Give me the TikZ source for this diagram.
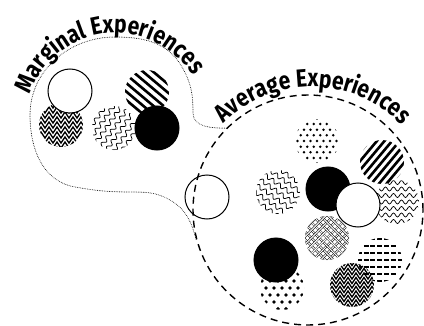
\documentclass[tikz,border=0pt]{standalone}
\usepackage{fontspec}
\newfontfamily\arcfamily{Fira Sans}[FakeStretch=0.84]
\newcommand\arcfont{\arcfamily\bfseries\fontsize{25}{25}\selectfont}
\usetikzlibrary{decorations.pathmorphing,decorations.text}

\begin{document}
\begin{tikzpicture}[x=1pt, y=1pt,
	disc/.style={
		% The shape:
		circle, inner sep=0pt,
		% The size:
		minimum size=44pt
		},
	% plain discs
	blank/.style={disc, draw, line width=1pt, fill=white},
	solid/.style={disc, draw, line width=1pt, fill=black},
	% patterned discs, the pattern is clipped to the disc;
	% each line starts 30pt back along the angle and runs 60pt
	stripes/.style 2 args={disc, path picture={
		\begin{scope}[shift={(path picture bounding box.center)}]
			\foreach \k in {-5,...,5}
				\draw[line width=2.6pt] ([shift={(#1+90:\k*#2)}] #1+180:30) -- ++(#1:60);
		\end{scope}}},
	zigzag/.style={disc, path picture={
		\begin{scope}[shift={(path picture bounding box.center)}]
			\foreach \k in {-6,...,6}
				\draw[line width=1.3pt, decorate,
					decoration={zigzag, segment length=8, amplitude=3}] (-30,\k*#1) -- (30,\k*#1);
		\end{scope}}},
	waves/.style 2 args={disc, path picture={
		\begin{scope}[shift={(path picture bounding box.center)}]
			\foreach \k in {-5,...,5}
				\draw[line width=0.75pt, decorate,
					decoration={snake, segment length=8, amplitude=2}]
					([shift={(#1+90:\k*#2)}] #1+180:30) -- ++(#1:60);
		\end{scope}}},
	dots/.style 2 args={disc, path picture={
		\begin{scope}[shift={(path picture bounding box.center)}]
			\foreach \i in {-4,...,4}
				\foreach \j in {-3,...,3} {
					\fill (\i*#1, 1.74*\j*#1) circle[radius=#2];
					\fill (\i*#1+0.5*#1, 1.74*\j*#1+0.87*#1) circle[radius=#2];
				}
		\end{scope}}},
	lattice/.style={disc, path picture={
		\begin{scope}[shift={(path picture bounding box.center)}]
			\foreach \k in {-5,...,5} {
				\draw[line width=0.5pt, double, double distance=1.1pt] ([shift={(135:\k*5.5)}] 225:30) -- ++(45:60);
				\draw[line width=0.5pt, double, double distance=1.1pt] ([shift={(45:\k*5.5)}] 135:30) -- ++(-45:60);
			}
		\end{scope}}},
	dashes/.style={disc, path picture={
		\begin{scope}[shift={(path picture bounding box.center)}]
			\foreach \k in {-3,...,3}
				\draw[line width=1.3pt, dash pattern=on 5pt off 1.8pt] (-30,\k*7) -- (30,\k*7);
		\end{scope}}},
	% outlines of the two groups
	rim/.style={circle, inner sep=0pt, minimum size=230pt, line width=1.4pt, dash pattern=on 7pt off 5pt},
	dotty/.style={line width=0.9pt, line cap=round, dash pattern=on 0pt off 1.7pt}
	]
	\useasboundingbox (0,0) rectangle (424,325);

	% marginal group
	\node (mzigzag) [zigzag=5] at (61,200) {};
	\node (mblank) [blank] at (70,234) {};
	\node (mstripes) [stripes={-40}{6.5}] at (147,233) {};
	\node (mwaves) [waves={55}{6.5}] at (114,197) {};
	\node (msolid) [solid] at (157,197) {};

	% average group
	\node (ablank) [blank] at (207,128) {};
	\node (average) [rim, draw] at (308,115) {};
	\node (adots) [dots={6.5}{1.4}] at (317,184) {};
	\node (astripes) [stripes={50}{5.8}] at (382,163) {};
	\node (awaves) [waves={-35}{6.5}] at (278,133) {};
	\node (asolid) [solid] at (328,136) {};
	\node (aripple) [waves={0}{6.5}] at (397,123) {};
	\node (alattice) [lattice] at (327,87) {};
	\node (awhite) [blank] at (358,120) {};
	\node (adashes) [dashes] at (380,65) {};
	\node (azigzag) [zigzag=4.5] at (352,40) {};
	\node (aspots) [dots={8}{1.9}] at (282,37) {};
	\node (alow) [solid] at (276,65) {};

	% dotted outline, leaves and rejoins the dashed one
	\draw[dotty] (average.135) to[out=180, in=-90] (193,212) to[out=90, in=-60] (182,258)
		to[out=120, in=0] (115,288) to[out=180, in=90] (30,210) to[out=-90, in=170] (75,138)
		to[out=-10, in=180] (130,133) to[out=0, in=150] (170,125) to[out=-30, in=105] (average.195);

	% titles along arcs
	\path[decorate, decoration={text along path, text align=center,
		text={|\arcfont|Marginal Experiences}}]
		([shift={(165:91)}]116,201) arc[start angle=165, end angle=28, radius=91];
	\path[decorate, decoration={text along path, text align=center,
		text={|\arcfont|Average Experiences}}]
		([shift={(138:125)}]312,113) arc[start angle=138, end angle=41, radius=125];

\end{tikzpicture}
\end{document}
